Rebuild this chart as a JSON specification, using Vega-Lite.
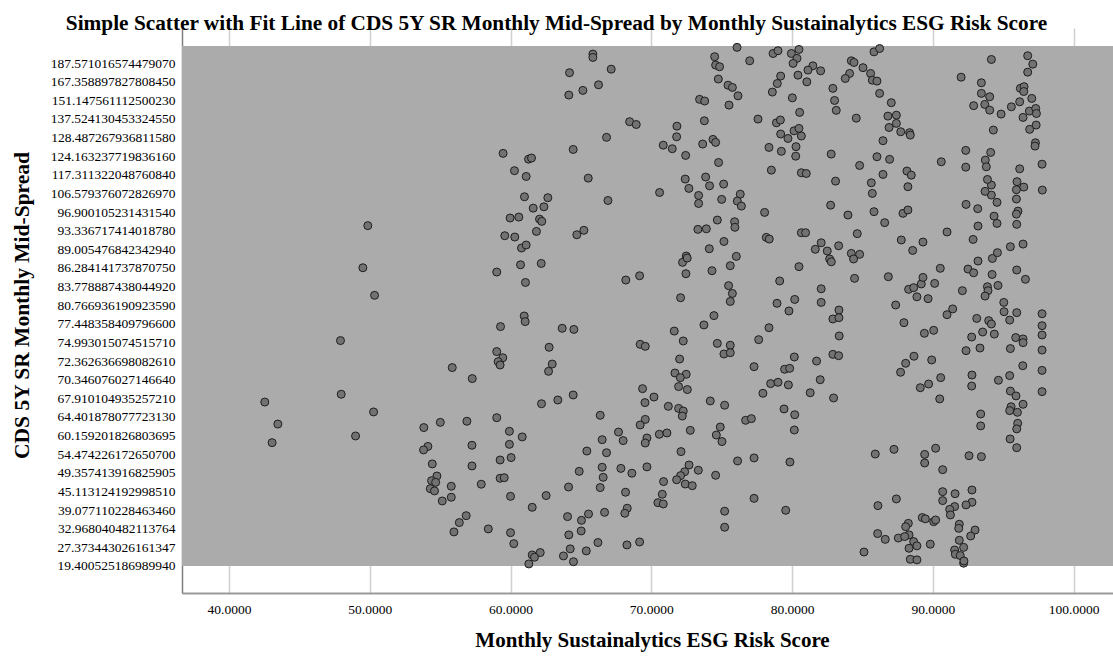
{
"$schema":"https://vega.github.io/schema/vega-lite/v6.json",
"width":931,"height":565,
"autosize":"none",
"padding":{"left":182,"top":28,"right":0,"bottom":64},
"background":"white",
"title":{"text":"Simple Scatter with Fit Line of CDS 5Y SR Monthly Mid-Spread by Monthly Sustainalytics ESG Risk Score","font":"Liberation Serif","fontSize":21.3,"fontWeight":"bold","color":"black","anchor":"middle","frame":"group","dx":-91,"dy":23,"offset":0,"baseline":"alphabetic"},
"config":{"view":{"stroke":null},"axis":{"labelOverlap":false}},
"data":{"values":[
{"esg":49.86,"rank":18.27},{"esg":49.51,"rank":16.01},{"esg":50.34,"rank":14.53},
{"esg":76.09,"rank":27.84},{"esg":74.50,"rank":27.34},{"esg":74.57,"rank":26.89},{"esg":74.85,"rank":26.80},{"esg":76.99,"rank":27.12},{"esg":78.65,"rank":27.51},{"esg":79.00,"rank":27.66},{"esg":79.95,"rank":27.51},{"esg":80.35,"rank":27.25},{"esg":80.07,"rank":26.98},{"esg":80.49,"rank":27.73},{"esg":80.42,"rank":26.35},{"esg":79.19,"rank":26.30},{"esg":78.95,"rank":25.90},{"esg":78.60,"rank":25.44},{"esg":80.02,"rank":25.13},{"esg":80.54,"rank":24.35},{"esg":65.85,"rank":27.48},{"esg":65.85,"rank":27.30},{"esg":67.15,"rank":26.67},{"esg":64.19,"rank":26.48},{"esg":66.25,"rank":25.83},{"esg":65.14,"rank":25.53},{"esg":64.14,"rank":25.28},{"esg":74.76,"rank":26.14},{"esg":75.45,"rank":25.81},{"esg":75.76,"rank":25.69},{"esg":76.16,"rank":25.24},{"esg":75.52,"rank":24.74},{"esg":73.43,"rank":25.05},{"esg":73.79,"rank":24.96},{"esg":73.77,"rank":23.90},{"esg":77.58,"rank":23.99},{"esg":78.89,"rank":23.79},{"esg":79.17,"rank":23.94},{"esg":79.19,"rank":23.19},{"esg":79.71,"rank":22.95},{"esg":80.14,"rank":23.36},{"esg":80.49,"rank":23.49},{"esg":80.66,"rank":23.08},{"esg":68.46,"rank":23.85},{"esg":68.93,"rank":23.70},{"esg":71.82,"rank":23.61},{"esg":71.80,"rank":23.04},{"esg":70.85,"rank":22.59},{"esg":71.49,"rank":22.40},{"esg":72.44,"rank":22.04},{"esg":73.65,"rank":22.65},{"esg":74.38,"rank":22.90},{"esg":74.57,"rank":22.74},{"esg":74.78,"rank":21.66},{"esg":78.36,"rank":22.47},{"esg":79.24,"rank":22.26},{"esg":80.28,"rank":22.51},{"esg":80.26,"rank":22.00},{"esg":78.53,"rank":21.25},{"esg":80.66,"rank":21.11},{"esg":66.82,"rank":23.01},{"esg":64.45,"rank":22.36},{"esg":59.47,"rank":22.15},{"esg":61.28,"rank":21.84},{"esg":61.49,"rank":21.90},{"esg":60.28,"rank":21.22},{"esg":61.11,"rank":20.91},{"esg":65.52,"rank":20.82},{"esg":70.59,"rank":20.05},{"esg":72.41,"rank":20.77},{"esg":72.67,"rank":20.27},{"esg":73.86,"rank":20.88},{"esg":74.14,"rank":20.41},{"esg":75.14,"rank":20.50},{"esg":73.36,"rank":19.89},{"esg":73.36,"rank":19.46},{"esg":75.00,"rank":19.68},{"esg":76.32,"rank":19.96},{"esg":76.11,"rank":19.59},{"esg":76.40,"rank":19.32},{"esg":78.05,"rank":18.98},{"esg":66.92,"rank":19.62},{"esg":60.99,"rank":19.82},{"esg":62.65,"rank":19.77},{"esg":61.61,"rank":19.21},{"esg":62.37,"rank":19.28},{"esg":59.97,"rank":18.68},{"esg":60.59,"rank":18.73},{"esg":62.06,"rank":18.62},{"esg":62.22,"rank":18.50},{"esg":61.84,"rank":17.96},{"esg":59.59,"rank":17.73},{"esg":60.30,"rank":17.66},{"esg":60.78,"rank":17.07},{"esg":61.11,"rank":17.23},{"esg":60.71,"rank":16.17},{"esg":62.18,"rank":16.24},{"esg":59.02,"rank":15.78},{"esg":61.06,"rank":15.22},{"esg":64.71,"rank":17.78},{"esg":65.21,"rank":18.02},{"esg":68.19,"rank":15.35},{"esg":69.17,"rank":15.58},{"esg":74.69,"rank":18.57},{"esg":75.92,"rank":18.48},{"esg":75.94,"rank":18.18},{"esg":73.31,"rank":18.07},{"esg":73.91,"rank":18.10},{"esg":75.16,"rank":17.42},{"esg":74.12,"rank":17.03},{"esg":78.17,"rank":17.64},{"esg":78.38,"rank":17.55},{"esg":80.66,"rank":17.89},{"esg":72.22,"rank":16.30},{"esg":72.48,"rank":16.64},{"esg":72.55,"rank":16.53},{"esg":72.46,"rank":15.69},{"esg":74.31,"rank":15.85},{"esg":75.61,"rank":16.12},{"esg":76.04,"rank":16.62},{"esg":75.49,"rank":15.05},{"esg":75.76,"rank":14.63},{"esg":75.61,"rank":14.20},{"esg":72.08,"rank":14.40},{"esg":79.12,"rank":15.30},{"esg":80.49,"rank":16.07},{"esg":78.93,"rank":14.10},{"esg":80.19,"rank":14.31},
{"esg":85.82,"rank":27.60},{"esg":86.22,"rank":27.78},{"esg":84.21,"rank":27.12},{"esg":84.40,"rank":27.03},{"esg":85.04,"rank":26.75},{"esg":84.09,"rank":26.44},{"esg":83.78,"rank":26.17},{"esg":85.58,"rank":26.44},{"esg":85.70,"rank":26.08},{"esg":86.03,"rank":26.03},{"esg":86.22,"rank":25.37},{"esg":81.48,"rank":26.85},{"esg":81.13,"rank":26.62},{"esg":82.03,"rank":26.58},{"esg":81.05,"rank":25.99},{"esg":82.90,"rank":25.64},{"esg":83.02,"rank":24.99},{"esg":83.14,"rank":24.46},{"esg":84.56,"rank":24.04},{"esg":87.05,"rank":24.87},{"esg":86.81,"rank":24.15},{"esg":87.41,"rank":24.20},{"esg":87.41,"rank":23.76},{"esg":86.89,"rank":23.54},{"esg":87.72,"rank":23.31},{"esg":88.35,"rank":23.26},{"esg":88.40,"rank":23.13},{"esg":86.46,"rank":22.83},{"esg":82.78,"rank":22.11},{"esg":84.80,"rank":21.50},{"esg":86.03,"rank":21.97},{"esg":86.93,"rank":21.83},{"esg":86.46,"rank":21.02},{"esg":88.16,"rank":21.20},{"esg":88.47,"rank":20.98},{"esg":88.23,"rank":20.36},{"esg":85.63,"rank":20.57},{"esg":85.70,"rank":20.00},{"esg":83.09,"rank":20.66},{"esg":81.01,"rank":21.07},{"esg":82.74,"rank":19.37},{"esg":83.97,"rank":18.84},{"esg":85.82,"rank":19.02},{"esg":86.58,"rank":18.43},{"esg":87.88,"rank":18.93},{"esg":88.23,"rank":19.11},{"esg":80.96,"rank":17.89},{"esg":84.63,"rank":17.84},{"esg":82.07,"rank":17.35},{"esg":81.65,"rank":17.00},{"esg":82.50,"rank":16.91},{"esg":83.31,"rank":17.19},{"esg":82.67,"rank":16.48},{"esg":82.79,"rank":16.33},{"esg":84.21,"rank":16.78},{"esg":84.80,"rank":16.73},{"esg":84.37,"rank":16.48},{"esg":87.76,"rank":17.50},{"esg":88.57,"rank":16.94},{"esg":89.30,"rank":17.39},{"esg":84.44,"rank":15.44},{"esg":86.84,"rank":15.53},{"esg":82.07,"rank":14.88},{"esg":82.07,"rank":14.15},{"esg":88.28,"rank":14.85},{"esg":88.64,"rank":14.94},{"esg":89.18,"rank":15.14},{"esg":89.30,"rank":15.49},{"esg":90.13,"rank":15.17},{"esg":88.87,"rank":14.45},{"esg":89.66,"rank":14.35},{"esg":87.36,"rank":14.01},{"esg":90.53,"rank":15.98},{"esg":91.01,"rank":17.93},{"esg":92.10,"rank":14.78},{"esg":92.50,"rank":15.94},{"esg":92.90,"rank":15.74},{"esg":93.21,"rank":16.37},{"esg":94.23,"rank":16.51},{"esg":94.59,"rank":16.82},{"esg":95.51,"rank":17.14},{"esg":96.41,"rank":17.28},{"esg":95.96,"rank":15.89},{"esg":96.58,"rank":15.39},{"esg":94.21,"rank":15.65},{"esg":94.63,"rank":15.06},{"esg":93.88,"rank":14.99},{"esg":93.92,"rank":14.78},{"esg":93.71,"rank":14.49},{"esg":95.04,"rank":14.15},{"esg":92.86,"rank":17.53},{"esg":93.21,"rank":18.25},{"esg":94.35,"rank":18.78},{"esg":94.56,"rank":18.39},{"esg":92.36,"rank":19.41},{"esg":93.19,"rank":19.18},{"esg":96.05,"rank":19.05},{"esg":95.94,"rank":18.89},{"esg":95.96,"rank":18.34},{"esg":95.94,"rank":19.70},{"esg":95.94,"rank":20.20},{"esg":95.98,"rank":20.63},{"esg":96.46,"rank":20.34},{"esg":96.17,"rank":21.32},{"esg":97.78,"rank":20.18},{"esg":97.76,"rank":21.57},{"esg":94.56,"rank":19.52},{"esg":94.16,"rank":19.91},{"esg":93.71,"rank":20.11},{"esg":94.16,"rank":20.45},{"esg":93.88,"rank":20.75},{"esg":93.73,"rank":21.79},{"esg":93.80,"rank":21.43},{"esg":94.11,"rank":22.20},{"esg":92.34,"rank":22.31},{"esg":92.34,"rank":21.41},{"esg":90.60,"rank":21.70},{"esg":94.30,"rank":23.40},{"esg":92.01,"rank":26.24},{"esg":94.16,"rank":27.19},{"esg":93.45,"rank":25.94},{"esg":93.45,"rank":25.37},{"esg":94.04,"rank":25.19},{"esg":93.69,"rank":24.78},{"esg":94.04,"rank":24.47},{"esg":92.90,"rank":24.71},{"esg":94.85,"rank":24.26},{"esg":95.58,"rank":24.65},{"esg":96.17,"rank":24.92},{"esg":96.41,"rank":24.08},{"esg":96.86,"rank":24.42},{"esg":97.31,"rank":24.56},{"esg":97.36,"rank":24.29},{"esg":97.34,"rank":23.67},{"esg":96.88,"rank":23.44},{"esg":97.29,"rank":22.72},{"esg":97.26,"rank":22.54},{"esg":97.03,"rank":25.10},{"esg":96.22,"rank":25.64},{"esg":96.48,"rank":25.73},{"esg":96.46,"rank":25.47},{"esg":96.74,"rank":27.39},{"esg":97.10,"rank":26.94},{"esg":96.74,"rank":26.51},
{"esg":47.92,"rank":12.10},{"esg":47.97,"rank":9.22},{"esg":50.27,"rank":8.27},{"esg":48.99,"rank":6.98},{"esg":42.54,"rank":8.80},{"esg":43.47,"rank":7.62},{"esg":43.06,"rank":6.62},{"esg":55.86,"rank":10.65},{"esg":57.28,"rank":10.06},{"esg":55.01,"rank":7.71},{"esg":56.90,"rank":7.77},{"esg":53.84,"rank":7.43},{"esg":54.13,"rank":6.42},{"esg":53.82,"rank":6.23},{"esg":57.26,"rank":6.48},{"esg":54.44,"rank":5.48},{"esg":57.26,"rank":5.37},{"esg":54.77,"rank":4.83},{"esg":54.39,"rank":4.58},{"esg":54.68,"rank":4.49},{"esg":54.30,"rank":4.15},{"esg":54.60,"rank":4.03},{"esg":55.79,"rank":4.28},{"esg":55.79,"rank":3.69},{"esg":55.15,"rank":3.49},{"esg":57.92,"rank":4.39},{"esg":56.85,"rank":2.70},{"esg":56.36,"rank":2.33},{"esg":55.98,"rank":1.83},{"esg":58.42,"rank":1.99},
{"esg":60.97,"rank":13.42},{"esg":61.04,"rank":13.12},{"esg":59.29,"rank":12.85},{"esg":63.67,"rank":12.76},{"esg":64.50,"rank":12.70},{"esg":59.02,"rank":11.51},{"esg":59.45,"rank":11.18},{"esg":59.12,"rank":10.97},{"esg":59.26,"rank":10.79},{"esg":62.74,"rank":11.74},{"esg":62.96,"rank":10.84},{"esg":62.70,"rank":10.45},{"esg":62.20,"rank":8.71},{"esg":63.36,"rank":8.91},{"esg":64.45,"rank":9.18},{"esg":59.02,"rank":7.96},{"esg":59.92,"rank":7.23},{"esg":60.83,"rank":6.93},{"esg":59.92,"rank":6.53},{"esg":59.26,"rank":5.69},{"esg":60.04,"rank":5.82},{"esg":59.26,"rank":4.71},{"esg":59.55,"rank":4.74},{"esg":60.00,"rank":3.74},{"esg":61.54,"rank":3.15},{"esg":62.53,"rank":3.78},{"esg":60.00,"rank":1.79},{"esg":60.23,"rank":1.20},{"esg":62.11,"rank":0.72},{"esg":61.54,"rank":0.59},{"esg":61.70,"rank":0.47},{"esg":61.30,"rank":0.11},{"esg":63.76,"rank":0.54},{"esg":64.47,"rank":0.23},{"esg":64.24,"rank":0.92},{"esg":64.14,"rank":1.67},{"esg":64.05,"rank":2.65},{"esg":65.04,"rank":2.45},{"esg":65.02,"rank":1.88},{"esg":65.54,"rank":2.79},{"esg":64.12,"rank":4.24},{"esg":64.88,"rank":5.08},{"esg":65.42,"rank":6.17},{"esg":66.37,"rank":8.09},{"esg":66.51,"rank":6.78},{"esg":66.82,"rank":6.08},{"esg":66.51,"rank":5.30},{"esg":66.58,"rank":4.76},{"esg":66.37,"rank":4.21},{"esg":66.68,"rank":2.88},{"esg":65.38,"rank":0.81},{"esg":66.21,"rank":1.26},{"esg":68.27,"rank":1.13},{"esg":69.17,"rank":1.29},{"esg":68.17,"rank":3.96},{"esg":68.29,"rank":3.10},{"esg":68.12,"rank":2.83},{"esg":67.84,"rank":5.24},{"esg":68.62,"rank":4.98},{"esg":67.67,"rank":7.19},{"esg":68.00,"rank":6.73},{"esg":69.21,"rank":11.90},{"esg":69.57,"rank":11.79},{"esg":69.38,"rank":9.52},{"esg":69.55,"rank":8.77},{"esg":70.19,"rank":9.07},{"esg":69.57,"rank":7.87},{"esg":69.21,"rank":7.57},{"esg":69.69,"rank":6.87},{"esg":69.57,"rank":6.60},{"esg":69.69,"rank":5.32},{"esg":70.57,"rank":7.07},{"esg":71.11,"rank":7.14},{"esg":71.21,"rank":8.57},{"esg":71.94,"rank":8.46},{"esg":72.27,"rank":8.32},{"esg":72.20,"rank":8.05},{"esg":72.77,"rank":7.28},{"esg":72.11,"rank":6.14},{"esg":72.68,"rank":5.42},{"esg":72.37,"rank":5.06},{"esg":72.08,"rank":4.85},{"esg":71.80,"rank":4.63},{"esg":72.41,"rank":4.40},{"esg":72.91,"rank":4.31},{"esg":73.34,"rank":5.14},{"esg":70.87,"rank":4.53},{"esg":70.78,"rank":3.85},{"esg":70.47,"rank":3.40},{"esg":70.85,"rank":3.33},{"esg":71.63,"rank":12.61},{"esg":72.27,"rank":12.08},{"esg":72.01,"rank":11.11},{"esg":71.68,"rank":10.36},{"esg":72.48,"rank":10.29},{"esg":72.06,"rank":10.11},{"esg":71.94,"rank":9.63},{"esg":72.56,"rank":9.47},{"esg":73.74,"rank":12.94},{"esg":74.45,"rank":13.44},{"esg":74.69,"rank":11.95},{"esg":75.61,"rank":11.85},{"esg":75.16,"rank":11.38},{"esg":75.61,"rank":11.45},{"esg":77.63,"rank":12.15},{"esg":78.36,"rank":12.79},{"esg":79.78,"rank":13.69},{"esg":80.16,"rank":11.22},{"esg":79.47,"rank":10.56},{"esg":79.83,"rank":10.61},{"esg":77.30,"rank":10.70},{"esg":78.48,"rank":9.79},{"esg":79.00,"rank":9.86},{"esg":79.74,"rank":9.72},{"esg":77.93,"rank":9.27},{"esg":74.19,"rank":8.86},{"esg":75.21,"rank":8.63},{"esg":79.43,"rank":8.43},{"esg":80.19,"rank":8.12},{"esg":80.16,"rank":7.30},{"esg":76.70,"rank":7.82},{"esg":77.11,"rank":7.91},{"esg":74.90,"rank":7.46},{"esg":74.62,"rank":7.03},{"esg":75.02,"rank":6.68},{"esg":76.13,"rank":5.64},{"esg":77.30,"rank":5.80},{"esg":79.85,"rank":5.58},{"esg":74.57,"rank":4.87},{"esg":77.30,"rank":3.63},{"esg":75.21,"rank":2.94},{"esg":75.21,"rank":2.08},{"esg":79.55,"rank":2.99},
{"esg":83.33,"rank":13.74},{"esg":82.90,"rank":13.26},{"esg":83.33,"rank":13.33},{"esg":83.35,"rank":12.35},{"esg":82.90,"rank":11.36},{"esg":83.31,"rank":11.29},{"esg":81.74,"rank":11.00},{"esg":82.00,"rank":10.00},{"esg":81.29,"rank":9.30},{"esg":82.95,"rank":9.02},{"esg":87.95,"rank":13.06},{"esg":89.40,"rank":12.49},{"esg":90.06,"rank":12.65},{"esg":91.41,"rank":13.80},{"esg":91.01,"rank":13.49},{"esg":88.66,"rank":11.26},{"esg":88.07,"rank":10.88},{"esg":87.71,"rank":10.40},{"esg":89.92,"rank":11.06},{"esg":89.11,"rank":9.57},{"esg":89.70,"rank":9.77},{"esg":90.56,"rank":10.11},{"esg":90.49,"rank":8.97},{"esg":93.12,"rank":13.29},{"esg":93.97,"rank":13.17},{"esg":94.16,"rank":12.99},{"esg":92.76,"rank":12.29},{"esg":93.54,"rank":12.56},{"esg":94.37,"rank":12.45},{"esg":95.06,"rank":13.65},{"esg":95.96,"rank":13.60},{"esg":95.46,"rank":13.20},{"esg":97.76,"rank":13.54},{"esg":97.76,"rank":12.90},{"esg":97.76,"rank":12.40},{"esg":97.76,"rank":11.59},{"esg":97.76,"rank":10.50},{"esg":97.76,"rank":9.36},{"esg":95.89,"rank":12.26},{"esg":96.41,"rank":12.19},{"esg":96.41,"rank":11.99},{"esg":95.51,"rank":11.67},{"esg":93.35,"rank":11.70},{"esg":92.36,"rank":11.56},{"esg":96.39,"rank":10.75},{"esg":92.78,"rank":10.25},{"esg":92.76,"rank":9.66},{"esg":94.66,"rank":9.97},{"esg":95.46,"rank":10.22},{"esg":95.51,"rank":9.39},{"esg":95.91,"rank":9.13},{"esg":96.41,"rank":8.68},{"esg":95.56,"rank":8.55},{"esg":95.46,"rank":8.34},{"esg":96.01,"rank":8.25},{"esg":96.03,"rank":7.66},{"esg":95.96,"rank":7.36},{"esg":95.49,"rank":6.82},{"esg":95.96,"rank":6.35},{"esg":93.40,"rank":8.16},{"esg":93.40,"rank":7.52},{"esg":85.91,"rank":6.01},{"esg":87.24,"rank":6.26},{"esg":89.42,"rank":5.99},{"esg":89.42,"rank":5.53},{"esg":90.20,"rank":6.32},{"esg":90.70,"rank":5.17},{"esg":92.57,"rank":5.92},{"esg":93.45,"rank":5.87},{"esg":87.41,"rank":3.60},{"esg":86.10,"rank":3.24},{"esg":90.70,"rank":3.99},{"esg":90.70,"rank":3.51},{"esg":91.58,"rank":3.88},{"esg":92.78,"rank":4.08},{"esg":92.78,"rank":3.42},{"esg":92.36,"rank":3.28},{"esg":91.55,"rank":3.19},{"esg":91.20,"rank":3.04},{"esg":91.25,"rank":2.74},{"esg":89.25,"rank":2.60},{"esg":89.47,"rank":2.53},{"esg":90.06,"rank":2.38},{"esg":90.20,"rank":2.47},{"esg":88.26,"rank":2.29},{"esg":88.07,"rank":2.11},{"esg":86.08,"rank":1.74},{"esg":86.62,"rank":1.43},{"esg":87.55,"rank":1.50},{"esg":88.31,"rank":1.67},{"esg":88.00,"rank":1.58},{"esg":88.64,"rank":1.31},{"esg":88.87,"rank":1.08},{"esg":88.31,"rank":0.95},{"esg":89.82,"rank":1.17},{"esg":88.40,"rank":0.36},{"esg":88.87,"rank":0.33},{"esg":85.11,"rank":0.75},{"esg":91.88,"rank":2.24},{"esg":91.84,"rank":2.02},{"esg":93.00,"rank":1.93},{"esg":92.69,"rank":1.61},{"esg":91.88,"rank":1.38},{"esg":92.19,"rank":1.00},{"esg":91.55,"rank":0.86},{"esg":91.60,"rank":0.63},{"esg":91.95,"rank":0.56},{"esg":92.19,"rank":0.15},{"esg":92.21,"rank":0.27}
]},
"layer":[
{"mark":{"type":"rect","color":"#ababab"},
 "encoding":{
  "x":{"datum":36.66,"type":"quantitative",
   "scale":{"domain":[36.66,102.8],"nice":false,"zero":false},
   "axis":{"values":[40,50,60,70,80,90,100],"format":".4f","grid":true,"gridColor":"#d0d0d0","gridWidth":1.5,"ticks":false,"domainColor":"#9a9a9a","domainWidth":2,"labelFont":"Liberation Serif","labelFontSize":13.5,"labelColor":"black","labelPadding":9,"labelFlush":false,"labelOverlap":false,"title":"Monthly Sustainalytics ESG Risk Score","titleFont":"Liberation Serif","titleFontSize":21,"titleFontWeight":"bold","titleColor":"black","titleX":470,"titleY":47,"titleAlign":"center","titleBaseline":"middle"}},
  "x2":{"datum":102.8},
  "y":{"datum":0,"type":"quantitative",
   "scale":{"domain":[-1.45,28.88],"nice":false,"zero":false},
   "axis":{"values":[0,1,2,3,4,5,6,7,8,9,10,11,12,13,14,15,16,17,18,19,20,21,22,23,24,25,26,27],
    "labelExpr":"['19.400525186989940','27.373443026161347','32.968040482113764','39.077110228463460','45.113124192998510','49.357413916825905','54.474226172650700','60.159201826803695','64.401878077723130','67.910104935257210','70.346076027146640','72.362636698082610','74.993015074515710','77.448358409796600','80.766936190923590','83.778887438044920','86.284141737870750','89.005476842342940','93.336717414018780','96.900105231431540','106.579376072826970','117.311322048760840','124.163237719836160','128.487267936811580','137.524130453324550','151.147561112500230','167.358897827808450','187.571016574479070'][datum.value]",
    "grid":false,"ticks":false,"domainColor":"#808080","domainWidth":1.5,"labelFont":"Liberation Serif","labelFontSize":13.5,"labelColor":"black","labelPadding":7,"labelOverlap":false,"labelFlush":false,"labelBound":false,
    "title":"CDS 5Y SR Monthly Mid-Spread","titleFont":"Liberation Serif","titleFontSize":21.5,"titleFontWeight":"bold","titleColor":"black","titleX":-160,"titleY":277,"titleAngle":-90,"titleAlign":"center","titleBaseline":"middle"}},
  "y2":{"datum":27.87}
 }},
{"mark":{"type":"point","shape":"circle","filled":true,"size":64,"fill":"#727272","stroke":"#1e1e1e","strokeWidth":1,"opacity":1},
 "encoding":{
  "x":{"field":"esg","type":"quantitative",
   "scale":{"domain":[36.66,102.8],"nice":false,"zero":false},
   "axis":{"values":[40,50,60,70,80,90,100],"format":".4f","grid":true,"gridColor":"#d0d0d0","gridWidth":1.5,"ticks":false,"domainColor":"#9a9a9a","domainWidth":2,"labelFont":"Liberation Serif","labelFontSize":13.5,"labelColor":"black","labelPadding":9,"labelFlush":false,"labelOverlap":false,"title":"Monthly Sustainalytics ESG Risk Score","titleFont":"Liberation Serif","titleFontSize":21,"titleFontWeight":"bold","titleColor":"black","titleX":470,"titleY":47,"titleAlign":"center","titleBaseline":"middle"}},
  "y":{"field":"rank","type":"quantitative",
   "scale":{"domain":[-1.45,28.88],"nice":false,"zero":false},
   "axis":{"values":[0,1,2,3,4,5,6,7,8,9,10,11,12,13,14,15,16,17,18,19,20,21,22,23,24,25,26,27],
    "labelExpr":"['19.400525186989940','27.373443026161347','32.968040482113764','39.077110228463460','45.113124192998510','49.357413916825905','54.474226172650700','60.159201826803695','64.401878077723130','67.910104935257210','70.346076027146640','72.362636698082610','74.993015074515710','77.448358409796600','80.766936190923590','83.778887438044920','86.284141737870750','89.005476842342940','93.336717414018780','96.900105231431540','106.579376072826970','117.311322048760840','124.163237719836160','128.487267936811580','137.524130453324550','151.147561112500230','167.358897827808450','187.571016574479070'][datum.value]",
    "grid":false,"ticks":false,"domainColor":"#808080","domainWidth":1.5,"labelFont":"Liberation Serif","labelFontSize":13.5,"labelColor":"black","labelPadding":7,"labelOverlap":false,"labelFlush":false,"labelBound":false,
    "title":"CDS 5Y SR Monthly Mid-Spread","titleFont":"Liberation Serif","titleFontSize":21.5,"titleFontWeight":"bold","titleColor":"black","titleX":-160,"titleY":277,"titleAngle":-90,"titleAlign":"center","titleBaseline":"middle"}}
 }}
]
}
